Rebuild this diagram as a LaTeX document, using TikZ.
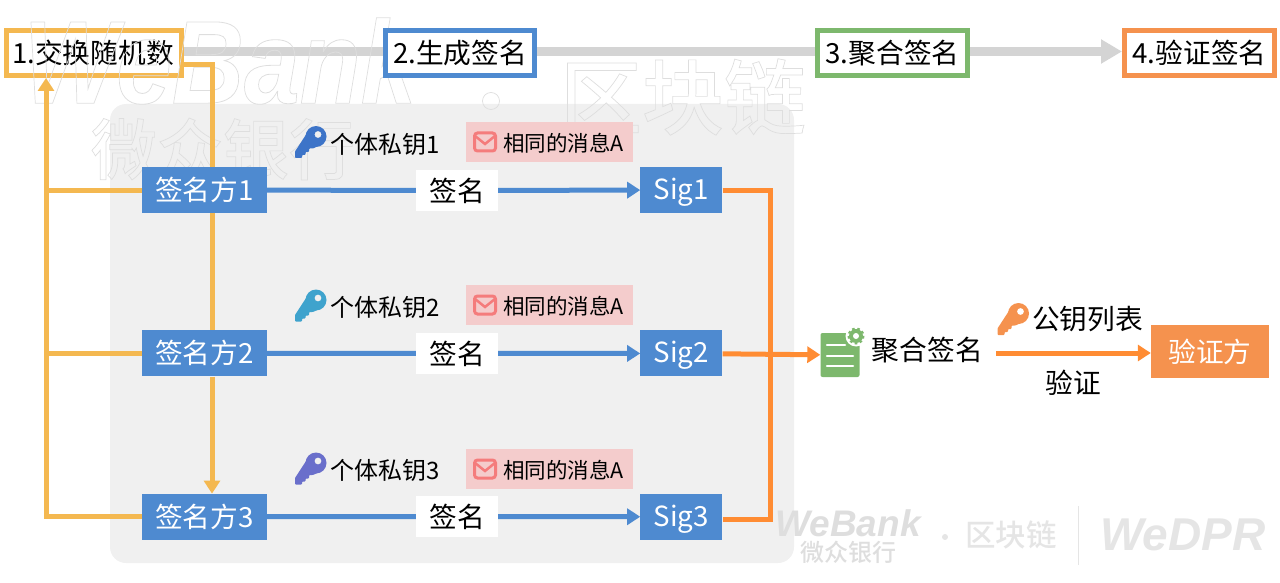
\documentclass[tikz,border=0pt]{standalone}
\usepackage{fontspec}
\setmainfont{Noto Sans CJK SC}
\newfontfamily\wmfont{Liberation Sans}
\newfontfamily\wmcjk{Noto Sans CJK SC Medium}
\usepackage{xcolor}
\definecolor{sgYellow}{HTML}{F4B850}
\definecolor{sgBlue}{HTML}{4E8AD0}
\definecolor{sgGreen}{HTML}{7DB86D}
\definecolor{sgOrange}{HTML}{F5924E}
\definecolor{sgLine}{HTML}{FF8C33}
\definecolor{sgPink}{HTML}{F4CCCC}
\definecolor{sgMail}{HTML}{F47C7C}
\definecolor{keyBlue}{HTML}{3D74C8}
\definecolor{keyTeal}{HTML}{3FA3CD}
\definecolor{keyPurple}{HTML}{6A6FCB}
\usetikzlibrary{positioning,arrows.meta,backgrounds}
\newcommand{\outlined}[1]{\special{pdf:code 1 Tr 0.7 w 0.87 0.87 0.87 RG}#1\special{pdf:code 0 Tr}}
\newcommand{\sz}[1]{\fontsize{#1}{#1}\selectfont}
\tikzset{stepbox/.style={draw, line width=5pt, fill=white, minimum width=#1, minimum height=45pt, inner sep=0pt, font=\sz{27.7}}}
\tikzset{party/.style={fill=sgBlue, text=white, minimum width=125pt, minimum height=46pt, inner sep=0pt, font=\sz{27.7}}}
\tikzset{sigbox/.style={party, minimum width=82pt, text height=23.5pt, text depth=4.5pt}}
\tikzset{signtag/.style={fill=white, minimum width=82pt, minimum height=41pt, inner sep=0pt, font=\sz{27.7}}}
\tikzset{msgbox/.style={fill=sgPink, minimum width=167pt, minimum height=40pt, inner sep=0pt, font=\sz{21.5}, text depth=0pt}}
\tikzset{plain/.style={inner sep=0pt, font=\sz{24}}}
\tikzset{flowline/.style={line width=5pt}}
\tikzset{flowtip/.style={flowline, -{Triangle[width=16pt,length=13pt]}}}
\tikzset{pics/keyicon/.style={code={
  \fill[#1, even odd rule] (0,0) circle (10.5) (2,-2) circle (3.5);
  \fill[#1, rounded corners=.8pt] (-8,-5) -- (-21,15) -- (-21,21.5) -- (-14,21.5) -- (-14,18.5) -- (-10.5,18.5) -- (-10.5,15.5) -- (-7,15.5) -- (-7,12) -- (-3,12) -- (5,8) -- cycle;
}}}
\tikzset{pics/mailicon/.style={code={
  \draw[sgMail, line width=3pt, rounded corners=3pt] (-10.5,-9) rectangle (10.5,9);
  \draw[sgMail, line width=2.5pt] (-10.5,-6.5) -- (0,2) -- (10.5,-6.5);
}}}
\begin{document}
\begin{tikzpicture}[x=1pt, y=-1pt]
\useasboundingbox (0,0) rectangle (1280,583);
%--------------------
% the last three steps
%--------------------
\node[stepbox=149pt, draw=sgBlue](stepB) at (460,53){2.生成签名};
\node[stepbox=150pt, draw=sgGreen](stepC) at (892.5,53){3.聚合签名};
\node[stepbox=150pt, draw=sgOrange](stepD) at (1199.5,53){4.验证签名};

%--------------------
% panel, first step, grey arrows and watermarks
%--------------------
\begin{scope}[on background layer]
\fill[black!6, rounded corners=16pt] (110,104) rectangle (794,563);
\node[stepbox=175pt, draw=sgYellow](stepA) at (94,53){\hspace*{-2pt}1.交换随机数};
\draw[black!17, line width=9pt] ([yshift=1.5pt]stepA.east) -- ([yshift=1.5pt]stepB.west);
\draw[black!17, line width=9pt] ([yshift=1.5pt]stepB.east) -- ([yshift=1.5pt]stepC.west);
\draw[black!17, line width=9pt, -{Triangle[width=23pt,length=21pt]}] ([yshift=1.5pt]stepC.east) -- ([yshift=1.5pt]stepD.west);
\node[inner sep=0pt, yscale=1.18, transform shape, font=\wmfont\sz{100}\bfseries\itshape](wmbank) at (220,61){\outlined{WeBank}};
\node[inner sep=0pt, font=\wmcjk\sz{66}](wmwz) at (223,149){\outlined{微众银行}};
\node[inner sep=0pt, font=\wmcjk\sz{82}](wmchain) at (683,97){\outlined{区块链}};
\draw[black!13, line width=.7pt] (491,101) circle (8.5);
\node[inner sep=0pt, text=black!13, font=\wmfont\sz{37}\bfseries\itshape](wmbank2) at (848,523){WeBank};
\node[inner sep=0pt, text=black!13, font=\wmcjk\sz{24}](wmwz2) at (848,552){微众银行};
\node[inner sep=0pt, text=black!10, font=\wmcjk\sz{30.5}](wmchain2) at (1011,535){区块链};
\fill[black!10] (945,537) circle (3);
\draw[black!10] (1078,506) -- (1078,565);
\node[inner sep=0pt, text=black!10, font=\wmfont\sz{46}\bfseries\itshape](wmdpr) at (1183,535){WeDPR};
\end{scope}

%--------------------
% signers, yellow lines below them
%--------------------
\coordinate (yellowUp) at ([xshift=-48pt]stepA.south);
\coordinate (signerAtop) at (204.5,167);
\coordinate (yellowDown) at ([xshift=7.5pt]signerAtop);
\draw[flowline, sgYellow] ([yshift=-12pt]stepA.east) -| (yellowDown);
\node[party](signerA) at (204.5,190){签名方1};
\node[party](signerB)[below=117pt of signerA]{签名方2};
\node[party](signerC)[below=117pt of signerB]{签名方3};
\draw[flowline, sgYellow] ([xshift=7.5pt]signerA.south) -- ([xshift=7.5pt]signerB.north);
\draw[flowtip, sgYellow] ([xshift=7.5pt]signerB.south) -- ([xshift=7.5pt]signerC.north);
\draw[flowtip, sgYellow] (signerC.west) -| (yellowUp);
\draw[flowline, sgYellow] (signerA.west) -- (signerA.west -| yellowUp);
\draw[flowline, sgYellow] (signerB.west) -- (signerB.west -| yellowUp);

%--------------------
% first row
%--------------------
\node[sigbox](sigA)[right=373pt of signerA]{Sig1};
\node[signtag](signA) at (457,190.5){签名};
\draw[flowline, sgBlue] (signerA) -- (signA);
\draw[flowtip, sgBlue] (signA) -- (sigA);
\pic at (316,136.5) {keyicon=keyBlue};
\node[plain, anchor=west](privA) at (330,144){个体私钥1};
\node[msgbox](msgA) at (549.5,142){\hspace*{28pt}相同的消息A};
\pic at (485,142) {mailicon};

%--------------------
% second row
%--------------------
\node[sigbox](sigB)[right=373pt of signerB]{Sig2};
\node[signtag](signB) at (457,353.5){签名};
\draw[flowline, sgBlue] (signerB) -- (signB);
\draw[flowtip, sgBlue] (signB) -- (sigB);
\pic at (316,300) {keyicon=keyTeal};
\node[plain, anchor=west](privB) at (330,307){个体私钥2};
\node[msgbox](msgB) at (549.5,305){\hspace*{28pt}相同的消息A};
\pic at (485,305) {mailicon};

%--------------------
% third row
%--------------------
\node[sigbox](sigC)[right=373pt of signerC]{Sig3};
\node[signtag](signC) at (457,516.5){签名};
\draw[flowline, sgBlue] (signerC) -- (signC);
\draw[flowtip, sgBlue] (signC) -- (sigC);
\pic at (316,463) {keyicon=keyPurple};
\node[plain, anchor=west](privC) at (330,470){个体私钥3};
\node[msgbox](msgC) at (549.5,469){\hspace*{28pt}相同的消息A};
\pic at (485,469) {mailicon};

%--------------------
% aggregation
%--------------------
\node[fill=sgGreen, rounded corners=2pt, minimum width=39pt, minimum height=44pt, inner sep=0pt](doc) at (840,355){};
\draw[white, line width=2.5pt, line cap=round] (827,345) -- (845,345);
\draw[white, line width=2.5pt, line cap=round] (827,356) -- (853,356);
\draw[white, line width=2.5pt, line cap=round] (827,366) -- (853,366);
\fill[white] (856,336) circle (10.5);
\draw[sgGreen, line width=2pt, dash pattern=on 2.6pt off 2.6pt] (856,336) circle (7.5);
\fill[sgGreen] (856,336) circle (7);
\fill[white] (856,336) circle (3);
\coordinate (orangeTurn) at ([xshift=47.5pt]sigA.east);
\coordinate (orangeEnd) at ([yshift=-3pt]sigC.east);
\draw[flowline, sgLine] (sigA.east) -| (orangeTurn |- orangeEnd) -- (orangeEnd);
\draw[flowtip, sgLine] (sigB) -- (doc);
\node[inner sep=0pt, font=\sz{27.7}, anchor=west](merged)[right=12pt of doc, yshift=5pt]{聚合签名};

%--------------------
% verification
%--------------------
\node[fill=sgOrange, text=white, minimum width=118pt, minimum height=53pt, inner sep=0pt, font=\sz{27.7}](verifier) at (1210,351.5){验证方};
\coordinate (verifyStart) at (996,353);
\draw[flowtip, sgLine] (verifyStart) -- (verifyStart -| verifier.west);
\pic at (1018.5,313.5) {keyicon=sgOrange};
\node[plain, font=\sz{27.7}, anchor=west](pubkeys) at (1032,319){公钥列表};
\node[plain, font=\sz{27.7}](verifytag) at (1073,383){验证};
\end{tikzpicture}
\end{document}
